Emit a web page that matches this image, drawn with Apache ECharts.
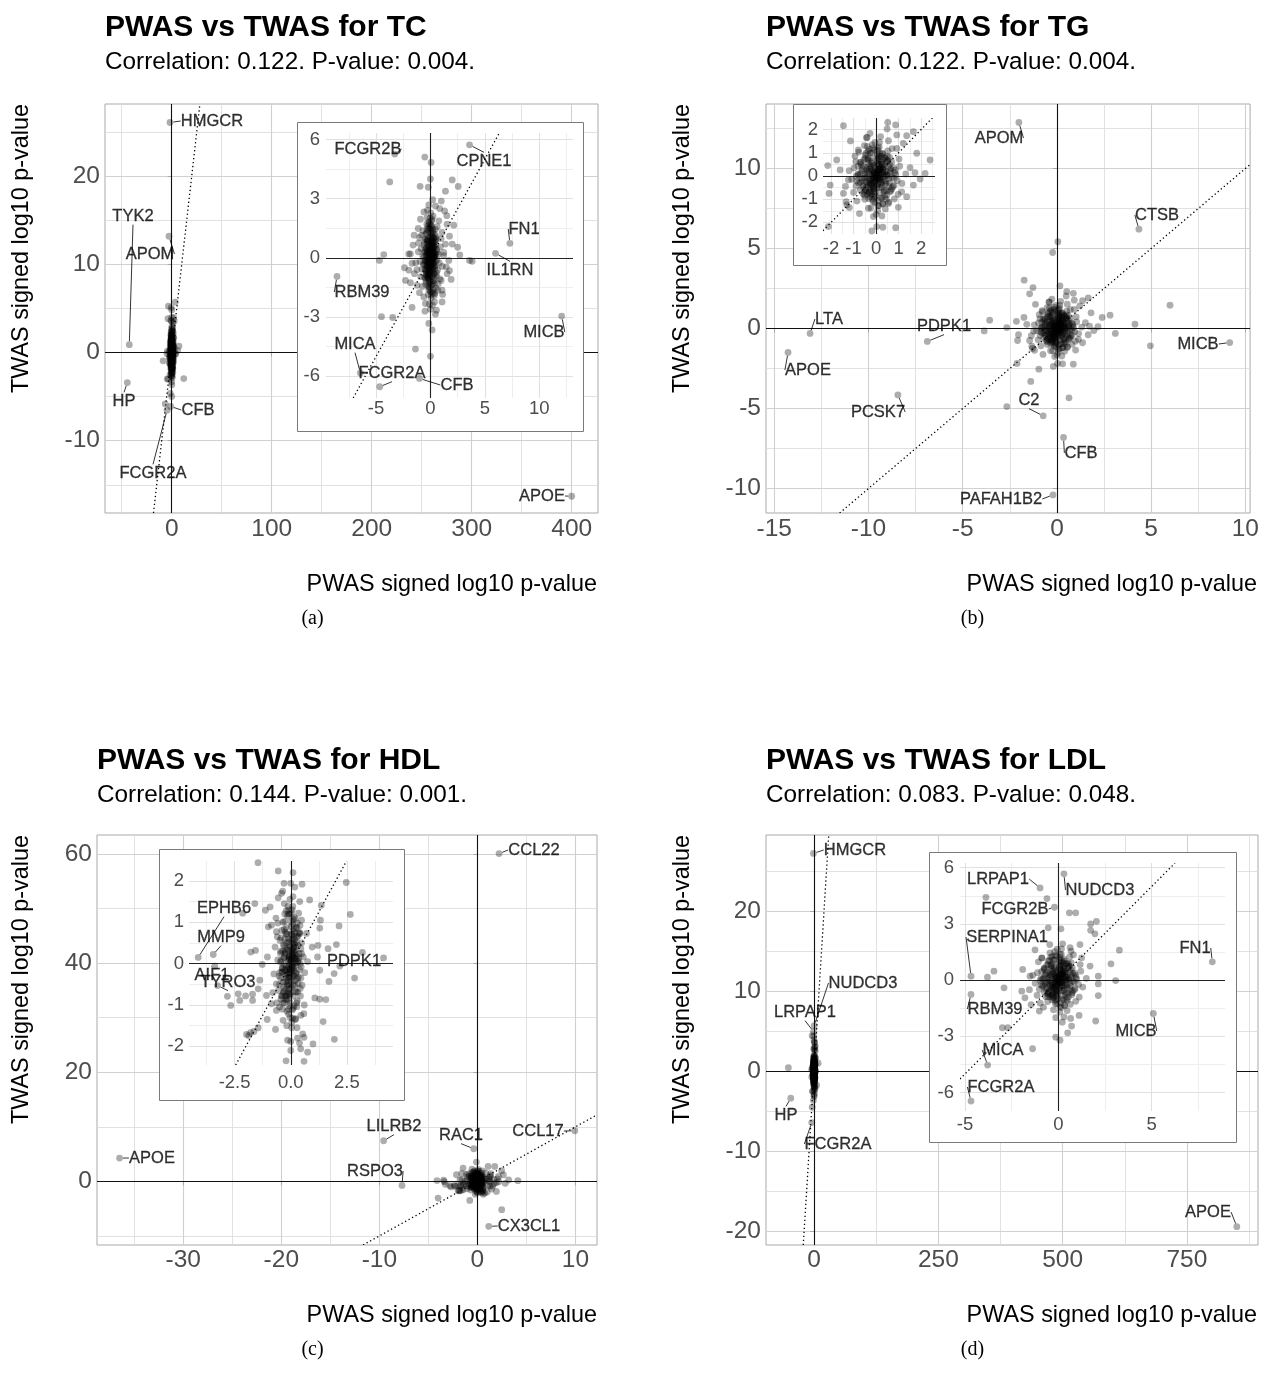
<!DOCTYPE html>
<html lang="en">
<head>
<meta charset="UTF-8">
<script src="https://cdn.jsdelivr.net/npm/echarts@6.0.0/dist/echarts.min.js"></script>
<title>PWAS vs TWAS</title>
<style>html,body{margin:0;padding:0;background:#fff;}</style>
</head>
<body>
<div id="main" style="width:1262px;height:1374px;"></div>
<script type="text/javascript">
// ---------- (a) TC ----------
var tcLabeled = [
    ['HMGCR', -1.7, 26.1], ['APOM', -2.7, 13.2], ['TYK2', -42.4, 0.9], ['HP', -44.4, -3.4],
    ['APOE', 400, -16.3], ['FCGR2B', -3.28, 5.26], ['CPNE1', 3.59, 5.73], ['FN1', 7.3, 0.74],
    ['IL1RN', 5.98, 0.23], ['RBM39', -8.59, -0.94], ['MICB', 12.06, -2.95], ['MICA', -6.44, -5.83],
    ['FCGR2A', -4.66, -6.53], ['CFB', -1.01, -6.11]
];
var tcPoints = [
    [-0.52,5.11],[0.06,4.84],[-3.74,3.85],[0,4.0],[-0.95,3.63],[-0.2,3.58],[2.0,3.95],[2.55,3.62],[1.38,3.38],[0.2,2.95],
    [1.0,2.88],[0.46,2.63],[-0.6,2.33],[1.3,2.38],[1.5,2.14],[2.15,1.66],[-1.13,1.49],[-1.0,1.04],[1.75,1.1],[2.0,0.7],
    [2.5,0.54],[2.7,0.15],[3.59,-0.13],[3.83,-0.17],[-4.29,0.17],[-4.69,-0.13],[-2.39,-0.5],[-2.0,0.2],[-1.69,-0.27],[-4.5,-2.98],
    [-3.47,-3.02],[-1.69,-2.51],[-1.38,-4.62],[0,-2.6],[-0.15,-3.32],[0.15,-3.65],[0,-4.99],[0.46,-2.85],[0.37,-2.23],[1.07,-2.23],
    [-0.46,-2.31],[1.9,-1.09],[1.75,-0.64],[1.07,-1.64],
    [-1.84,0.2],[-2.3,-1.14],[-1.84,-1.26],[-1.47,-0.8],[-1.23,-1.39],[-1.01,-1.76],[-0.61,-1.98],[-0.92,1.96],[1.07,1.29],[1.38,0.7],
    [1.23,0.28],[1.69,-0.13],[1.53,-0.8],[0.98,-1.14],[0.67,-1.64],[0.4,-1.81],[1.53,1.71],[0.77,1.88],[-0.31,2.04],[-1.6,0.65],
    [-1.35,-0.25],[-1.98,-0.62],[1.45,-0.45],[-0.15,2.68],[0.55,-2.65],[-0.5,-2.7],[0.85,2.5],[-1.1,0.75],[1.12,-1.85],[-1.5,1.15]
];
var tcCore = [
    [0.05,0.12],[-0.12,0.35],[0.18,-0.22],[-0.25,-0.41],[0.31,0.58],[-0.08,-0.77],[0.12,0.91],[-0.34,0.18],[0.22,-0.63],[0.02,1.24],
    [-0.18,-1.05],[0.41,0.07],[-0.45,-0.12],[0.09,-1.38],[-0.06,1.52],[0.27,0.33],[-0.29,0.71],[0.15,-0.95],[-0.11,-0.28],[0.36,-0.44],
    [-0.02,0.46],[0.07,-0.09],[-0.21,1.02],[0.24,1.31],[-0.38,-0.66],[0.48,-0.18],[-0.55,0.29],[0.11,-1.72],[-0.14,1.83],[0.03,-0.52],
    [0.58,0.42],[-0.62,-0.35],[0.19,0.15],[-0.27,-0.93],[0.33,-1.16],[-0.09,0.62],[0.06,-2.05],[-0.04,2.02],[0.44,0.88],[-0.47,0.94],
    [0.14,0.41],[-0.16,-0.58],[0.28,-0.05],[-0.33,0.52],[0.01,-0.16],[-0.07,0.23],[0.21,0.69],[-0.24,-0.19],[0.39,-0.82],[-0.42,1.21],
    [0.65,-0.61],[-0.71,0.11],[0.08,1.63],[-0.12,-1.47],[0.26,-1.61],[-0.31,1.44],[0.52,1.08],[-0.51,-1.02],[0.17,0.03],[-0.19,0.84],
    [0.04,0.72],[-0.03,-0.38],[0.32,0.21],[-0.36,-0.02],[0.12,-0.33],[-0.14,0.09],[0.09,0.28],[-0.1,-0.07],[0.23,-0.48],[-0.26,0.38],
    [0.72,0.19],[-0.78,-0.58],[0.45,1.45],[-0.44,-1.33],[0.13,1.96],[-0.2,-1.86],[0.36,-1.9],[-0.34,1.72],[0.82,-0.26],[-0.86,0.47],
    [0.02,0.05],[-0.05,-0.02],[0.1,0.19],[-0.15,-0.14],[0.16,-0.11],[-0.08,0.15],[0.06,0.38],[-0.02,-0.25],[0.2,0.52],[-0.22,0.58],
    [0.04,-0.68],[-0.13,-0.86],[0.29,-0.29],[-0.3,0.27],[0.11,1.12],[-0.06,-1.22],[0.35,1.02],[-0.39,-0.84],[0.55,-0.91],[-0.58,0.66],
    [0.92,0.56],[-0.95,-0.18],[0.62,1.58],[-0.68,1.38],[0.71,-1.32],[-0.74,-1.45],[1.08,-0.43],[-1.12,0.31],[0.98,0.98],[-0.9,-0.95],
    [0.03,2.28],[-0.1,-2.35],[0.24,2.12],[0.18,-2.4],[-0.28,2.41],[1.21,0.12],[-1.24,-0.6],[0.86,-1.06],[-0.82,1.15],[0.49,-1.52],
    [0.0,0.0],[0.1,-0.05],[-0.1,0.06],[0.05,0.25],[-0.05,-0.3],[0.15,0.45],[-0.15,-0.5],[0.08,0.65],[-0.08,-0.7],[0.2,0.85],
    [-0.2,-0.9],[0.02,1.05],[-0.02,-1.1],[0.12,1.25],[-0.12,-1.3],[0.25,0.1],[-0.25,-0.08],[0.3,-0.25],[-0.3,0.3],[0.04,1.45],
    [-0.04,-1.55],[0.18,-1.2],[-0.18,1.35],[0.32,0.75],[-0.32,-0.72],[0.4,-0.55],[-0.4,0.48],[0.07,-0.42],[-0.07,0.52],[0.22,0.2],
    [-0.22,-0.25],[0.13,-0.6],[-0.13,0.68],[0.27,1.0],[-0.27,-1.0],[0.35,-1.05],[-0.35,0.95],[0.01,1.68],[-0.01,-1.72],[0.16,1.55],
    [-0.16,-1.62],[0.44,0.28],[-0.44,-0.3],[0.5,0.62],[-0.5,-0.6],[0.09,0.1],[-0.09,-0.12],[0.19,-0.33],[-0.19,0.4],[0.03,0.82],
    [-0.03,-0.85],[0.28,-0.78],[-0.28,0.88],[0.37,0.02],[-0.37,0.12],[0.11,1.88],[-0.11,1.72],[0.06,-1.88],[0.24,-1.78],[-0.24,1.62],
    [0.14,0.32],[-0.14,-0.38],[0.1,0.58],[-0.1,-0.62],[0.26,0.42],[-0.26,-0.46],[0.05,-0.18],[-0.05,0.16],[0.17,0.74],[-0.17,-0.8],
    [0.33,0.15],[-0.35,-0.2],[0.45,-0.4],[-0.48,0.38],[0.52,0.95],[-0.52,-0.98],[0.2,1.4],[-0.22,-1.42],[0.6,-0.1],[-0.6,0.05],
    [0.38,1.2],[-0.4,-1.18],[0.25,-0.85],[-0.26,0.9],[0.42,0.55],[-0.44,-0.55],[0.15,-1.35],[-0.15,1.5],[0.55,-0.75],[-0.56,0.78],
    [0.3,0.02],[-0.3,-0.35],[0.1,0.35],[-0.1,-0.4],[0.48,0.18],[-0.48,-0.15],[0.05,0.9],[-0.05,-0.95],[0.35,-1.3],[-0.35,1.28],
    [0.22,0.62],[-0.22,-0.68],[0.62,0.3],[-0.64,-0.28],[0.12,-0.15],[-0.12,0.2],[0.4,0.82],[-0.4,-0.85],[0.18,1.05],[-0.18,-1.08]
];
var tcXTicks = [0, 100, 200, 300, 400], tcXMinor = [-50, 50, 150, 250, 350];
var tcYTicks = [-10, 0, 10, 20], tcYMinor = [-15, -5, 5, 15, 25];
var tcInXTicks = [-5, 0, 5, 10], tcInXMinor = [-7.5, -2.5, 2.5, 7.5, 12.5];
var tcInYTicks = [-6, -3, 0, 3, 6], tcInYMinor = [-4.5, -1.5, 1.5, 4.5];

// ---------- (b) TG ----------
var tgLabeled = [
    ['APOM', -2.02, 12.88], ['CTSB', 4.35, 6.21], ['LTA', -13.1, -0.31], ['APOE', -14.27, -1.5],
    ['PDPK1', -6.88, -0.81], ['PCSK7', -8.44, -4.15], ['MICB', 9.17, -0.88], ['C2', -0.73, -5.46],
    ['CFB', 0.35, -6.81], ['PAFAH1B2', -0.21, -10.4]
];
var tgPoints = [
    [0.05,5.42],[-0.23,4.75],[6.0,1.46],[4.14,0.27],[4.96,-1.08],[3.1,-0.31],[2.82,0.83],[-1.74,3.02],[-1.27,2.56],[0.16,2.67],
    [-2.66,0.06],[-3.57,0.52],[-3.86,-0.15],[-0.96,-2.54],[-1.39,-3.31],[-2.66,-4.88],[0.64,-4.33],
    [-1.45,2.17],[0.52,2.31],[0.87,2.2],[0.49,2.03],[-1.14,1.51],[-0.27,1.84],[-0.43,1.65],[0.92,1.77],[1.66,1.91],
    [1.36,1.74],[1.21,1.41],[-0.79,1.12],[-0.52,1.31],[0.92,1.19],[1.81,0.98],[2.18,0.11],[2.4,0.69],[1.73,0.14],[1.51,0.36],
    [-1.75,0.69],[-2.15,0.45],[-1.6,0.26],[-2.04,-0.39],[-2.09,-0.75],[-1.45,-0.75],[-1.33,-1.11],[-1.19,-1.36],[-0.74,-1.62],[-0.34,-1.39],
    [0,-1.65],[0.03,-2.18],[-0.19,-2.37],[0.3,-2.21],[0.87,-2.23],[-2.12,-2.18],[-1.3,-1.25],[0.99,-1.35],[1.36,-0.89],[1.66,-0.39],
    [1.96,-0.13],[0.55,-1.18],[1.14,-0.68],[-0.9,0.62],[-1.23,-0.17]
];
var tgCore = [
    [0.02,0.08],[-0.15,0.22],[0.21,-0.14],[-0.28,-0.31],[0.35,0.41],[-0.09,-0.55],[0.14,0.67],[-0.4,0.12],[0.26,-0.47],[0.05,0.92],
    [-0.21,-0.8],[0.48,0.05],[-0.52,-0.09],[0.1,-1.05],[-0.07,1.12],[0.3,0.25],[-0.33,0.53],[0.17,-0.72],[-0.13,-0.2],[0.42,-0.33],
    [-0.03,0.35],[0.08,-0.06],[-0.25,0.78],[0.27,0.98],[-0.44,-0.5],[0.56,-0.13],[-0.63,0.22],[0.12,-1.28],[-0.17,1.34],[0.04,-0.39],
    [0.66,0.31],[-0.7,-0.26],[0.22,0.11],[-0.31,-0.7],[0.38,-0.88],[-0.11,0.47],[0.07,-1.5],[-0.05,1.45],[0.5,0.65],[-0.54,0.7],
    [0.16,0.3],[-0.19,-0.43],[0.32,-0.04],[-0.38,0.39],[0.01,-0.12],[-0.08,0.17],[0.24,0.52],[-0.27,-0.14],[0.45,-0.62],[-0.48,0.9],
    [0.75,-0.46],[-0.81,0.08],[0.09,1.2],[-0.14,-1.1],[0.3,-1.2],[-0.36,1.07],[0.6,0.8],[-0.58,-0.77],[0.19,0.02],[-0.22,0.63],
    [0.05,0.54],[-0.04,-0.28],[0.37,0.16],[-0.41,-0.02],[0.14,-0.25],[-0.16,0.07],[0.1,0.21],[-0.11,-0.05],[0.26,-0.36],[-0.3,0.28],
    [0.83,0.14],[-0.89,-0.43],[0.52,1.08],[-0.5,-1.0],[0.15,1.46],[-0.23,-1.38],[0.41,-1.42],[-0.39,1.28],[0.94,-0.2],[-0.98,0.35],
    [0.03,0.04],[-0.06,-0.02],[0.11,0.14],[-0.17,-0.1],[0.18,-0.08],[-0.09,0.11],[0.07,0.28],[-0.02,-0.19],[0.23,0.39],[-0.25,0.43],
    [0.04,-0.51],[-0.15,-0.64],[0.33,-0.22],[-0.34,0.2],[0.13,0.84],[-0.07,-0.91],[0.4,0.76],[-0.45,-0.63],[0.63,-0.68],[-0.66,0.49],
    [1.05,0.42],[-1.08,-0.14],[0.71,1.18],[-0.77,1.03],[0.81,-0.99],[-0.85,-1.08],[1.15,-0.32],[-1.2,0.23],[1.02,0.73],[-1.0,-0.71],
    [0.2,1.7],[-0.12,-1.75],[0.55,1.52],[0.26,-1.72],[-0.4,1.66],[1.32,0.09],[-1.36,-0.45],[0.98,-0.79],[-0.94,0.86],[0.56,-1.13],
    [0.0,0.0],[0.12,-0.06],[-0.12,0.07],[0.06,0.22],[-0.06,-0.24],[0.22,0.36],[-0.22,-0.38],[0.1,0.52],[-0.1,-0.55],[0.3,0.7],
    [-0.3,-0.72],[0.03,0.82],[-0.03,-0.86],[0.16,0.96],[-0.16,-1.0],[0.34,0.08],[-0.34,-0.06],[0.42,-0.22],[-0.42,0.26],[0.05,1.1],
    [-0.05,-1.15],[0.26,-0.95],[-0.26,1.0],[0.46,0.6],[-0.46,-0.58],[0.55,-0.44],[-0.55,0.4],[0.09,-0.34],[-0.09,0.4],[0.3,0.18],
    [-0.3,-0.2],[0.18,-0.5],[-0.18,0.55],[0.38,0.8],[-0.38,-0.8],[0.48,-0.82],[-0.48,0.76],[0.62,0.22],[-0.62,-0.18],[0.7,-0.05],
    [-0.7,0.1],[0.6,0.5],[-0.6,-0.45],[0.66,-0.62],[-0.66,0.6],[0.11,0.09],[-0.11,-0.1],[0.24,-0.27],[-0.24,0.32],[0.04,0.66],
    [-0.04,-0.68],[0.36,-0.62],[-0.36,0.7],[0.5,0.02],[-0.5,0.1],[0.14,1.25],[-0.14,1.2],[0.08,-1.28],[0.3,-1.2],[-0.3,1.15],
    [0.19,0.27],[-0.19,-0.3],[0.13,0.45],[-0.13,-0.48],[0.33,0.34],[-0.33,-0.37],[0.07,-0.14],[-0.07,0.13],[0.23,0.6],[-0.23,-0.64],
    [0.78,0.35],[-0.78,-0.3],[0.8,-0.4],[-0.8,0.42],[0.88,0.05],[-0.88,-0.02],
    [0.45,0.2],[-0.45,-0.25],[0.6,-0.3],[-0.62,0.32],[0.7,0.6],[-0.7,-0.6],[0.3,0.95],[-0.32,-0.97],[0.8,-0.1],[-0.8,0.05],
    [0.5,0.85],[-0.52,-0.83],[0.35,-0.7],[-0.36,0.75],[0.55,0.4],[-0.57,-0.4],[0.2,-0.95],[-0.2,1.0],[0.7,-0.55],[-0.72,0.58],
    [0.4,0.02],[-0.4,-0.3],[0.15,0.3],[-0.15,-0.35],[0.62,0.12],[-0.62,-0.1],[0.08,0.75],[-0.08,-0.8],[0.45,-1.0],[-0.45,0.98],
    [0.28,0.5],[-0.28,-0.55],[0.85,0.25],[-0.86,-0.22],[0.15,-0.12],[-0.15,0.18],[0.52,0.68],[-0.52,-0.7],[0.25,0.85],[-0.25,-0.88]
];
var tgXTicks = [-15, -10, -5, 0, 5, 10], tgXMinor = [-12.5, -7.5, -2.5, 2.5, 7.5];
var tgYTicks = [-10, -5, 0, 5, 10], tgYMinor = [-7.5, -2.5, 2.5, 7.5, 12.5];
var tgInXTicks = [-2, -1, 0, 1, 2], tgInXMinor = [-2.5, -1.5, -0.5, 0.5, 1.5, 2.5];
var tgInYTicks = [-2, -1, 0, 1, 2], tgInYMinor = [-2.5, -1.5, -0.5, 0.5, 1.5, 2.5];

// ---------- (c) HDL ----------
var hdlLabeled = [
    ['CCL22', 2.21, 60.1], ['APOE', -36.5, 4.27], ['LILRB2', -9.56, 7.45], ['RSPO3', -7.69, -0.73],
    ['RAC1', -0.37, 5.98], ['CCL17', 9.93, 9.28], ['CX3CL1', 1.16, -8.24], ['EPHB6', -4.12, 0.15],
    ['MMP9', -3.45, 0.22], ['AIF1', -3.38, -0.06], ['TYRO3', -3.26, -0.53], ['PDPK1', 4.13, 0.14]
];
var hdlPoints = [
    [2.48,-5.19],[-0.78,-3.48],[-4.01,-3.05],[1.77,2.75],[1.09,2.75],[-0.1,3.54],[-1.46,2.44],[-2.14,1.22],[1.94,-1.83],[0.75,-2.14],
    [-1.97,-1.71],[-2.82,-0.79],
    [-0.56,2.24],[0.1,2.2],[-0.3,1.94],[0,1.94],[0.5,1.92],[2.47,1.96],[2.65,1.19],[2.15,0.91],[0.84,1.54],[1.36,1.41],
    [1.32,1.05],[1.29,0.86],[2.03,0.46],[3.19,0.27],[2.18,-0.06],[1.93,-0.24],[1.7,-0.43],[2.84,-0.35],[1.29,-0.16],[1.19,0.16],
    [1.07,-0.83],[1.29,-0.86],[1.56,-0.87],[1.44,-1.4],[0.58,-1.21],[0.53,-1.7],[0.59,-1.78],[0.39,-1.92],[0.44,-2.06],[0.59,-2.36],
    [-0.21,-2.35],[0,-2.1],[0,-1.88],[-0.68,-1.59],[-0.34,-1.37],[-1.05,-1.35],[-1.45,-1.55],[-1.79,-1.67],[-1.64,-1.64],[-1.87,-1.74],
    [-2.67,-1.01],[-2.34,-0.73],[-2.27,-0.89],[-2.01,-0.78],[-1.7,-0.89],[-1.7,-0.74],[-1.78,0.28],[-1.57,0.32],[-1.04,0.16],[-1.27,-0.02],
    [-1.38,-0.4],[-1.6,1.45],[-1.13,1.29],[-0.92,1.37],[-0.86,0.93],[-1.0,0.89],[-0.56,1.59],[-0.41,1.7],[-0.64,0.77],[-1.08,-0.77],
    [-0.86,-0.97],[-0.64,-1.13],[-1.45,-0.61],[0.99,-1.94],[0.95,0.4],[0.7,0.73],[1.66,0.36],[1.21,0.44]
];
var hdlCore = [
    [0.02,0.1],[-0.11,0.32],[0.14,-0.18],[-0.22,-0.35],[0.25,0.51],[-0.07,-0.62],[0.09,0.78],[-0.3,0.15],[0.18,-0.52],[0.01,1.02],
    [-0.16,-0.88],[0.33,0.06],[-0.38,-0.1],[0.07,-1.12],[-0.05,1.2],[0.21,0.29],[-0.26,0.6],[0.12,-0.79],[-0.1,-0.24],[0.29,-0.37],
    [-0.02,0.4],[0.05,-0.08],[-0.19,0.87],[0.2,1.08],[-0.33,-0.56],[0.39,-0.15],[-0.46,0.25],[0.08,-1.32],[-0.12,1.38],[0.02,-0.44],
    [0.45,0.36],[-0.52,-0.3],[0.15,0.13],[-0.24,-0.78],[0.27,-0.95],[-0.08,0.53],[0.04,-1.55],[-0.04,1.55],[0.36,0.74],[-0.4,0.8],
    [0.11,0.35],[-0.14,-0.49],[0.22,-0.04],[-0.28,0.44],[0.0,-0.14],[-0.06,0.2],[0.17,0.59],[-0.2,-0.16],[0.31,-0.69],[-0.35,1.0],
    [0.5,-0.52],[-0.58,0.09],[0.06,1.3],[-0.1,-1.22],[0.22,-1.33],[-0.27,1.2],[0.41,0.92],[-0.43,-0.86],[0.13,0.02],[-0.17,0.71],
    [0.03,0.6],[-0.03,-0.32],[0.26,0.18],[-0.31,-0.02],[0.1,-0.28],[-0.12,0.08],[0.07,0.24],[-0.09,-0.06],[0.19,-0.41],[-0.22,0.32],
    [0.56,0.16],[-0.64,-0.49],[0.35,1.22],[-0.37,-1.1],[0.1,1.62],[-0.18,-1.5],[0.28,-1.55],[-0.29,1.45],[0.62,-0.22],[-0.7,0.4],
    [0.01,0.03],[-0.04,-0.02],[0.08,0.16],[-0.13,-0.12],[0.13,-0.1],[-0.07,0.13],[0.05,0.33],[-0.02,-0.22],[0.16,0.45],[-0.19,0.5],
    [0.03,-0.58],[-0.11,-0.73],[0.23,-0.25],[-0.26,0.23],[0.09,0.95],[-0.05,-1.02],[0.28,0.86],[-0.33,-0.71],[0.43,-0.78],[-0.48,0.56],
    [-0.45,-0.35],[-0.55,-0.65],[-0.62,-0.95],[-0.5,-1.05],[-0.35,-0.95],[-0.4,-0.2],[-0.6,0.65],[-0.66,1.1],[0.48,1.05],[-0.75,-0.25],
    [0.18,1.85],[-0.14,-1.85],[0.4,1.5],[0.3,-1.8],[-0.36,1.75],[0.75,0.05],[-0.8,-0.7],[0.6,-1.0],[-0.58,0.98],[0.45,-1.25],
    [0.0,0.05],[0.08,-0.04],[-0.08,0.1],[0.04,0.25],[-0.04,-0.22],[0.13,0.4],[-0.13,-0.42],[0.06,0.56],[-0.06,-0.6],[0.17,0.74],
    [-0.17,-0.78],[0.02,0.9],[-0.02,-0.95],[0.1,1.06],[-0.1,-1.1],[0.21,0.12],[-0.21,-0.06],[0.25,-0.22],[-0.25,0.27],[0.03,1.22],
    [-0.03,-1.3],[0.15,-1.02],[-0.15,1.15],[0.27,0.64],[-0.27,-0.62],[0.33,-0.48],[-0.33,0.45],[0.05,-0.36],[-0.05,0.44],[0.18,0.2],
    [-0.18,-0.24],[0.11,-0.52],[-0.11,0.6],[0.23,0.88],[-0.23,-0.86],[0.29,-0.9],[-0.29,0.83],[0.37,0.25],[-0.37,-0.2],[0.42,0.0],
    [-0.42,0.08],[0.07,0.12],[-0.07,-0.14],[0.16,-0.3],[-0.16,0.36],[0.03,0.7],[-0.03,-0.72],[0.24,-0.68],[-0.24,0.76],[0.31,0.04],
    [-0.31,0.14],[0.09,1.38],[-0.09,1.3],[0.05,-1.42],[0.2,-1.35],[-0.2,1.28],[0.12,0.3],[-0.12,-0.34],[0.09,0.48],[-0.09,-0.5],
    [0.22,0.4],[-0.22,-0.44],[0.04,-0.16],[-0.04,0.18],[0.14,0.66],[-0.14,-0.7],[0.45,-0.35],[-0.45,0.3],[0.48,0.5],[-0.5,-0.5],
    [0.4,0.72],[-0.4,-0.78],
    [0.25,0.12],[-0.27,-0.16],[0.34,-0.32],[-0.36,0.3],[0.4,0.75],[-0.4,-0.78],[0.15,1.12],[-0.17,-1.15],[0.46,-0.08],[-0.46,0.04],
    [0.29,0.98],[-0.3,-0.95],[0.19,-0.68],[-0.2,0.72],[0.32,0.44],[-0.34,-0.44],[0.11,-1.08],[-0.11,1.2],[0.42,-0.6],[-0.43,0.62],
    [0.23,0.02],[-0.23,-0.28],[0.08,0.28],[-0.08,-0.32],[0.37,0.14],[-0.37,-0.12],[0.04,0.72],[-0.04,-0.76],[0.27,-1.04],[-0.27,1.02],
    [0.17,0.5],[-0.17,-0.54],[0.48,0.24],[-0.49,-0.22],[0.09,-0.12],[-0.09,0.16],[0.31,0.66],[-0.31,-0.68],[0.14,0.84],[-0.14,-0.86]
];
var hdlXTicks = [-30, -20, -10, 0, 10], hdlXMinor = [-35, -25, -15, -5, 5];
var hdlYTicks = [0, 20, 40, 60], hdlYMinor = [-10, 10, 30, 50];
var hdlInXTicks = [-2.5, 0, 2.5], hdlInXMinor = [-3.75, -1.25, 1.25, 3.75];
var hdlInYTicks = [-2, -1, 0, 1, 2], hdlInYMinor = [-2.5, -1.5, -0.5, 0.5, 1.5, 2.5];

// ---------- (d) LDL ----------
var ldlLabeled = [
    ['HMGCR', -1.3, 27.2], ['APOE', 850.4, -19.46], ['HP', -46.9, -3.4], ['LRPAP1', -0.98, 4.92],
    ['NUDCD3', 0.3, 5.67], ['FCGR2B', -0.21, 3.89], ['SERPINA1', -4.68, 0.21], ['RBM39', -4.68, -0.76],
    ['MICA', -3.79, -4.53], ['FCGR2A', -4.68, -6.45], ['MICB', 5.09, -1.78], ['FN1', 8.25, 0.98]
];
var ldlPoints = [
    [-51.7,0.42],
    [-3.88,4.42],[-0.61,4.35],[0.59,3.59],[0.93,3.59],[-0.54,2.79],[0.14,2.74],[1.73,3.0],[2.04,3.14],[1.73,2.66],[1.96,2.47],
    [3.27,1.6],[2.82,0.87],[3.07,-0.02],[2.14,-0.82],[2.0,-2.18],[-3.8,0.16],[-3.45,0.48],[-2.91,-0.41],[-3.0,-2.54],[-2.71,-2.54],
    [-1.38,-3.66],[-0.14,-3.04],[0.09,-3.2],[0.5,-2.81],[0.71,-2.45],[1.11,-1.88],[0.66,-2.04],[0.21,-2.24],[-0.8,-1.44],[-1.02,-1.65],
    [-1.96,-0.59],[-1.91,0.57],[-1.52,0.21],[-1.25,1.62],[-0.89,1.19],[-1.79,-0.94],[-1.46,-1.3],[2.14,-0.2],[2.14,0.21],[1.7,0.75],
    [1.25,1.19],[0.68,1.55],[1.16,1.9]
];
var ldlCore = [
    [0.04,0.06],[-0.18,0.27],[0.24,-0.16],[-0.33,-0.37],[0.4,0.47],[-0.1,-0.63],[0.17,0.78],[-0.46,0.13],[0.3,-0.55],[0.06,1.05],
    [-0.25,-0.92],[0.55,0.07],[-0.6,-0.11],[0.12,-1.2],[-0.08,1.28],[0.35,0.29],[-0.38,0.61],[0.2,-0.83],[-0.15,-0.23],[0.48,-0.38],
    [-0.04,0.4],[0.09,-0.07],[-0.29,0.9],[0.31,1.12],[-0.5,-0.57],[0.64,-0.15],[-0.72,0.25],[0.14,-1.46],[-0.2,1.52],[0.05,-0.45],
    [0.76,0.36],[-0.8,-0.3],[0.25,0.13],[-0.36,-0.8],[0.44,-1.0],[-0.13,0.54],[0.08,-1.7],[-0.06,1.66],[0.58,0.75],[-0.62,0.8],
    [0.18,0.35],[-0.22,-0.49],[0.37,-0.05],[-0.44,0.45],[0.01,-0.14],[-0.09,0.2],[0.28,0.6],[-0.31,-0.16],[0.52,-0.71],[-0.55,1.03],
    [0.86,-0.53],[-0.93,0.09],[0.1,1.37],[-0.16,-1.26],[0.34,-1.37],[-0.41,1.23],[0.69,0.92],[-0.67,-0.88],[0.22,0.02],[-0.25,0.72],
    [0.06,0.62],[-0.05,-0.32],[0.42,0.18],[-0.47,-0.02],[0.16,-0.29],[-0.18,0.08],[0.12,0.24],[-0.13,-0.06],[0.3,-0.41],[-0.34,0.32],
    [0.95,0.16],[-1.02,-0.49],[0.6,1.24],[-0.57,-1.14],[0.17,1.67],[-0.26,-1.58],[0.47,-1.62],[-0.45,1.46],[1.08,-0.23],[-1.12,0.4],
    [0.03,0.05],[-0.07,-0.02],[0.13,0.16],[-0.2,-0.12],[0.21,-0.09],[-0.1,0.13],[0.08,0.32],[-0.02,-0.22],[0.26,0.45],[-0.29,0.49],
    [0.05,-0.58],[-0.17,-0.73],[0.38,-0.25],[-0.39,0.23],[0.15,0.96],[-0.08,-1.04],[0.46,0.87],[-0.52,-0.72],[0.72,-0.78],[-0.76,0.56],
    [1.2,0.48],[-1.24,-0.16],[0.81,1.35],[-0.88,1.18],[0.93,-1.13],[-0.97,-1.23],[1.31,-0.37],[-1.37,0.26],[1.17,0.83],[-1.14,-0.81],
    [0.23,1.94],[-0.14,-2.0],[0.63,1.74],[0.3,-1.96],[-0.46,1.9],[1.5,0.1],[-1.55,-0.51],[1.12,-0.9],[-1.07,0.98],[0.64,-1.29],
    [0.0,0.02],[0.14,-0.07],[-0.14,0.08],[0.07,0.25],[-0.07,-0.27],[0.25,0.4],[-0.25,-0.42],[0.11,0.58],[-0.11,-0.61],[0.34,0.77],
    [-0.34,-0.8],[0.03,0.92],[-0.03,-0.96],[0.18,1.06],[-0.18,-1.1],[0.38,0.09],[-0.38,-0.07],[0.47,-0.25],[-0.47,0.29],[0.06,1.22],
    [-0.06,-1.27],[0.29,-1.05],[-0.29,1.1],[0.52,0.66],[-0.52,-0.64],[0.62,-0.49],[-0.62,0.44],[0.1,-0.38],[-0.1,0.44],[0.33,0.2],
    [-0.33,-0.22],[0.2,-0.55],[-0.2,0.61],[0.43,0.88],[-0.43,-0.88],[0.54,-0.9],[-0.54,0.84],[0.7,0.24],[-0.7,-0.2],[0.78,-0.06],
    [-0.78,0.11],[0.67,0.55],[-0.67,-0.5],[0.74,-0.68],[-0.74,0.66],[0.12,0.1],[-0.12,-0.11],[0.27,-0.3],[-0.27,0.35],[0.05,0.73],
    [-0.05,-0.75],[0.4,-0.68],[-0.4,0.77],[0.56,0.03],[-0.56,0.11],[0.16,1.38],[-0.16,1.32],[0.09,-1.41],[0.33,-1.32],[-0.33,1.27],
    [0.21,0.3],[-0.21,-0.33],[0.15,0.5],[-0.15,-0.53],[0.37,0.37],[-0.37,-0.41],[0.08,-0.15],[-0.08,0.14],[0.26,0.66],[-0.26,-0.7],
    [0.87,0.38],[-0.87,-0.33],[0.9,-0.44],[-0.9,0.46],[0.98,0.06],[-0.98,-0.02],
    [0.48,0.18],[-0.48,-0.22],[0.64,-0.32],[-0.66,0.34],[0.75,0.65],[-0.75,-0.64],[0.32,1.02],[-0.34,-1.04],[0.85,-0.1],[-0.85,0.06],
    [0.54,0.9],[-0.56,-0.88],[0.37,-0.75],[-0.38,0.8],[0.59,0.43],[-0.61,-0.43],[0.21,-1.02],[-0.21,1.07],[0.75,-0.59],[-0.77,0.62],
    [0.43,0.02],[-0.43,-0.32],[0.16,0.32],[-0.16,-0.37],[0.66,0.13],[-0.66,-0.1],[0.09,0.8],[-0.09,-0.85],[0.48,-1.07],[-0.48,1.05],
    [0.3,0.53],[-0.3,-0.59],[0.91,0.27],[-0.92,-0.24],[0.16,-0.13],[-0.16,0.19],[0.56,0.73],[-0.56,-0.75],[0.27,0.91],[-0.27,-0.94]
];
var ldlXTicks = [0, 250, 500, 750], ldlXMinor = [-125, 125, 375, 625, 875];
var ldlYTicks = [-20, -10, 0, 10, 20], ldlYMinor = [-15, -5, 5, 15, 25];
var ldlInXTicks = [-5, 0, 5], ldlInXMinor = [-2.5, 2.5, 7.5];
var ldlInYTicks = [-6, -3, 0, 3, 6], ldlInYMinor = [-4.5, -1.5, 1.5, 4.5];

// where each gene label sits, in px from its point (label centre)
var tcMainLabelAt = { HMGCR: [42, -2], APOM: [-19, 18], TYK2: [4, -129], HP: [-3, 18], CFB: [27, 4], FCGR2A: [-14, 63], APOE: [-30, 0] };
var tcInsetLabelAt = { FCGR2B: [-27, -5], CPNE1: [14, 16], FN1: [14, -14], IL1RN: [14, 17], RBM39: [25, 16], MICB: [-18, 16], MICA: [-5, -29], FCGR2A: [12, -14], CFB: [38, 7] };
var tgMainLabelAt = { APOM: [-19.5, 16], CTSB: [18, -14], LTA: [18.5, -14], APOE: [19.5, 17], PDPK1: [17, -15], PCSK7: [-20, 17], MICB: [-31.5, 1], C2: [-14.4, -15.7], CFB: [17.4, 16], PAFAH1B2: [-52.4, 4.3] };
var tgInsetLabelAt = {};
var hdlMainLabelAt = { CCL22: [35, -3.6], APOE: [32, 0], LILRB2: [10.5, -15], RSPO3: [-27, -14], RAC1: [-12.4, -13.3], CCL17: [-36.7, 0], CX3CL1: [40, 0] };
var hdlInsetLabelAt = { EPHB6: [26, -49], MMP9: [7.6, -18], AIF1: [-3, 8.7], TYRO3: [10.6, -4], PDPK1: [-30, 3] };
var ldlMainLabelAt = { HMGCR: [41.6, -3], NUDCD3: [49, -43], LRPAP1: [-8.5, -20], HP: [-5, 17], FCGR2A: [26, 21], APOE: [-29, -15] };
var ldlInsetLabelAt = { LRPAP1: [-41.7, -9.3], NUDCD3: [36, 16.4], FCGR2B: [-39.7, 1.4], SERPINA1: [36, -39], RBM39: [24, 15], MICA: [15, -15], FCGR2A: [29.6, -14], MICB: [-17, 17], FN1: [-17, -14] };

var FONT = '"Liberation Sans", Arial, Helvetica, sans-serif';

var panels = [
    {
        title: 'PWAS vs TWAS for TC', sub: 'Correlation: 0.122. P-value: 0.004.', cap: '(a)',
        tx: 105, ty: 27.5, sy: 62.5, yTitle: [22, 104], xTitle: [597, 585], capAt: [312.5, 619],
        labeled: tcLabeled, points: tcPoints.concat(tcCore),
        main: { rect: [105, 104, 493, 409], x: [-66.7, 426.3], y: [-18.2, 28.2], xt: tcXTicks, yt: tcYTicks, xm: tcXMinor, ym: tcYMinor, labels: tcMainLabelAt, lm: [3.5, 5] },
        inset: { box: [297, 122, 286, 309], rect: [326, 133, 247, 265], x: [-9.6, 13.1], y: [-7.1, 6.33], xt: tcInXTicks, yt: tcInYTicks, xm: tcInXMinor, ym: tcInYMinor, labels: tcInsetLabelAt, lm: [1.5, 6], fs: 18.5 }
    },
    {
        title: 'PWAS vs TWAS for TG', sub: 'Correlation: 0.122. P-value: 0.004.', cap: '(b)',
        tx: 766, ty: 27.5, sy: 62.5, yTitle: [683, 104], xTitle: [1257, 585], capAt: [972.5, 619],
        labeled: tgLabeled, points: tgPoints.concat(tgCore),
        main: { rect: [766, 104, 492, 409], x: [-15.44, 10.25], y: [-11.53, 14.03], xt: tgXTicks, yt: tgYTicks, xm: tgXMinor, ym: tgYMinor, labels: tgMainLabelAt, lm: [3.5, 5] },
        inset: { box: [793, 104, 153, 161], rect: [823, 118, 112, 116], x: [-2.36, 2.62], y: [-2.5, 2.5], xt: tgInXTicks, yt: tgInYTicks, xm: tgInXMinor, ym: tgInYMinor, labels: tgInsetLabelAt, lm: [5.5, 5], fs: 18.5 }
    },
    {
        title: 'PWAS vs TWAS for HDL', sub: 'Correlation: 0.144. P-value: 0.001.', cap: '(c)',
        tx: 97, ty: 760.5, sy: 795.8, yTitle: [22, 835], xTitle: [597, 1316], capAt: [312.5, 1350],
        labeled: hdlLabeled, points: hdlPoints.concat(hdlCore),
        main: { rect: [97, 835, 500, 410], x: [-38.8, 12.2], y: [-11.66, 63.5], xt: hdlXTicks, yt: hdlYTicks, xm: hdlXMinor, ym: hdlYMinor, labels: hdlMainLabelAt, lm: [3, 5] },
        inset: { box: [159, 849, 245, 251], rect: [189, 861, 204, 204], x: [-4.53, 4.55], y: [-2.45, 2.48], xt: hdlInXTicks, yt: hdlInYTicks, xm: hdlInXMinor, ym: hdlInYMinor, labels: hdlInsetLabelAt, lm: [8.5, 5], fs: 18.5, xf: function (v) { return v.toFixed(1); } }
    },
    {
        title: 'PWAS vs TWAS for LDL', sub: 'Correlation: 0.083. P-value: 0.048.', cap: '(d)',
        tx: 766, ty: 760.5, sy: 795.8, yTitle: [683, 835], xTitle: [1257, 1316], capAt: [972.5, 1350],
        labeled: ldlLabeled, points: ldlPoints.concat(ldlCore),
        main: { rect: [766, 835, 492, 410], x: [-96.7, 893], y: [-21.75, 29.5], xt: ldlXTicks, yt: ldlYTicks, xm: ldlXMinor, ym: ldlYMinor, labels: ldlMainLabelAt, lm: [3, 5] },
        inset: { box: [929, 852, 307, 290], rect: [960, 863, 265, 248], x: [-5.27, 8.93], y: [-6.98, 6.25], xt: ldlInXTicks, yt: ldlInYTicks, xm: ldlInXMinor, ym: ldlInYMinor, labels: ldlInsetLabelAt, lm: [4.5, 6], fs: 18.5 }
    }
];

var grids = [], xAxes = [], yAxes = [], series = [], graphics = [];

function segs(vals, range, other, vertical) {
    return vals.filter(function (v) { return v > range[0] && v < range[1]; }).map(function (v) {
        return { coords: vertical ? [[v, other[0]], [v, other[1]]] : [[other[0], v], [other[1], v]] };
    });
}

function addView(p, v, inset) {
    var gi = grids.length;
    var z = inset ? 10 : 0;
    var fs = inset ? v.fs : 24.5;
    grids.push({
        left: v.rect[0], top: v.rect[1], width: v.rect[2], height: v.rect[3],
        show: !inset, borderColor: '#a9a9a9', borderWidth: 1, backgroundColor: 'transparent', z: z
    });
    if (inset) {
        graphics.push({
            type: 'rect', z: 10, silent: true,
            shape: { x: v.box[0] + 0.5, y: v.box[1] + 0.5, width: v.box[2], height: v.box[3] },
            style: { fill: '#fff', stroke: '#7a7a7a', lineWidth: 1 }
        });
    }
    xAxes.push({
        gridIndex: gi, type: 'value', min: v.x[0], max: v.x[1], z: z + 1,
        axisLine: { show: false }, splitLine: { show: false },
        axisTick: { show: !inset, customValues: v.xt, length: 4, lineStyle: { color: '#a9a9a9' } },
        axisLabel: { customValues: v.xt, color: '#4d4d4d', fontSize: fs, fontFamily: FONT, margin: v.lm[0], formatter: v.xf }
    });
    yAxes.push({
        gridIndex: gi, type: 'value', min: v.y[0], max: v.y[1], z: z + 1,
        axisLine: { show: false }, splitLine: { show: false },
        axisTick: { show: !inset, customValues: v.yt, length: 4, lineStyle: { color: '#a9a9a9' } },
        axisLabel: { customValues: v.yt, color: '#4d4d4d', fontSize: fs, fontFamily: FONT, margin: v.lm[1] }
    });

    // minor and major grid lines
    series.push({
        type: 'lines', coordinateSystem: 'cartesian2d', xAxisIndex: gi, yAxisIndex: gi, z: z + 1, silent: true,
        lineStyle: { color: inset ? '#ececec' : '#dedede', width: 0.9, opacity: 1 },
        data: segs(v.xm, v.x, v.y, true).concat(segs(v.ym, v.y, v.x, false))
    });
    series.push({
        type: 'lines', coordinateSystem: 'cartesian2d', xAxisIndex: gi, yAxisIndex: gi, z: z + 1, silent: true,
        lineStyle: { color: inset ? '#e0e0e0' : '#d0d0d0', width: 1.1, opacity: 1 },
        data: segs(v.xt, v.x, v.y, true).concat(segs(v.yt, v.y, v.x, false))
    });

    // zero lines and the y = x line
    var lo = Math.max(v.x[0], v.y[0]), hi = Math.min(v.x[1], v.y[1]);
    series.push({
        type: 'lines', coordinateSystem: 'cartesian2d', xAxisIndex: gi, yAxisIndex: gi, z: z + 2, silent: true,
        data: [
            { coords: [[0, v.y[0]], [0, v.y[1]]], lineStyle: { color: inset ? '#222' : '#111', width: 1.1, opacity: 1 } },
            { coords: [[v.x[0], 0], [v.x[1], 0]], lineStyle: { color: inset ? '#222' : '#111', width: 1.1, opacity: 1 } },
            { coords: [[lo, lo], [hi, hi]], lineStyle: { color: '#000', width: 1.3, type: [1.3, 2.7], opacity: 1 } }
        ]
    });

    // points, with gene labels
    var data = [], offs = [];
    p.points.forEach(function (pt) { data.push([pt[0], pt[1]]); offs.push(null); });
    p.labeled.forEach(function (g) {
        var at = v.labels[g[0]];
        var item = { name: g[0], value: [g[1], g[2]] };
        if (at) {
            item.label = {
                show: true, position: 'right', formatter: g[0], fontSize: 16.5, color: '#000',
                fontFamily: FONT, textBorderColor: '#000', textBorderWidth: 0.3, textShadowBlur: 0
            };
        }
        data.push(item);
        offs.push(at || null);
    });
    series.push({
        type: 'scatter', xAxisIndex: gi, yAxisIndex: gi, z: z + 3, silent: true, clip: true,
        symbol: 'circle', symbolSize: 6.8,
        itemStyle: { color: 'rgba(0,0,0,0.4)' },
        label: { show: false, position: 'right' },
        labelLine: { show: true, length2: 0, smooth: false, lineStyle: { color: '#000', width: 0.8 } },
        labelLayout: (function (o) {
            return function (prm) {
                var d = o[prm.dataIndex];
                if (!d) return {};
                return {
                    x: Math.round(prm.rect.x + prm.rect.width / 2 + d[0]),
                    y: Math.round(prm.rect.y + prm.rect.height / 2 + d[1]),
                    align: 'center', verticalAlign: 'middle'
                };
            };
        })(offs),
        data: data
    });
}

function txt(x, y, text, font, align, rot) {
    return {
        type: 'text', x: x, y: y, z: 20, silent: true, rotation: rot || 0,
        style: {
            text: text, font: font, fill: '#000',
            align: align, verticalAlign: 'middle', textAlign: align, textVerticalAlign: 'middle'
        }
    };
}

panels.forEach(function (p) {
    addView(p, p.main, false);
    addView(p, p.inset, true);
    graphics.push(txt(p.tx, p.ty, p.title, 'bold 30px ' + FONT, 'left'));
    graphics.push(txt(p.tx, p.sy, p.sub, '24.3px ' + FONT, 'left'));
    graphics.push(txt(p.yTitle[0], p.yTitle[1], 'TWAS signed log10 p-value', '23.4px ' + FONT, 'right', Math.PI / 2));
    graphics.push(txt(p.xTitle[0], p.xTitle[1], 'PWAS signed log10 p-value', '23.4px ' + FONT, 'right'));
    graphics.push(txt(p.capAt[0], p.capAt[1], p.cap, '20px "Liberation Serif", "DejaVu Serif", serif', 'center'));
});

var myChart = echarts.init(document.getElementById('main'));
myChart.setOption({
    backgroundColor: '#fff',
    animation: false,
    grid: grids,
    xAxis: xAxes,
    yAxis: yAxes,
    series: series,
    graphic: { elements: graphics }
});
</script>
</body>
</html>
